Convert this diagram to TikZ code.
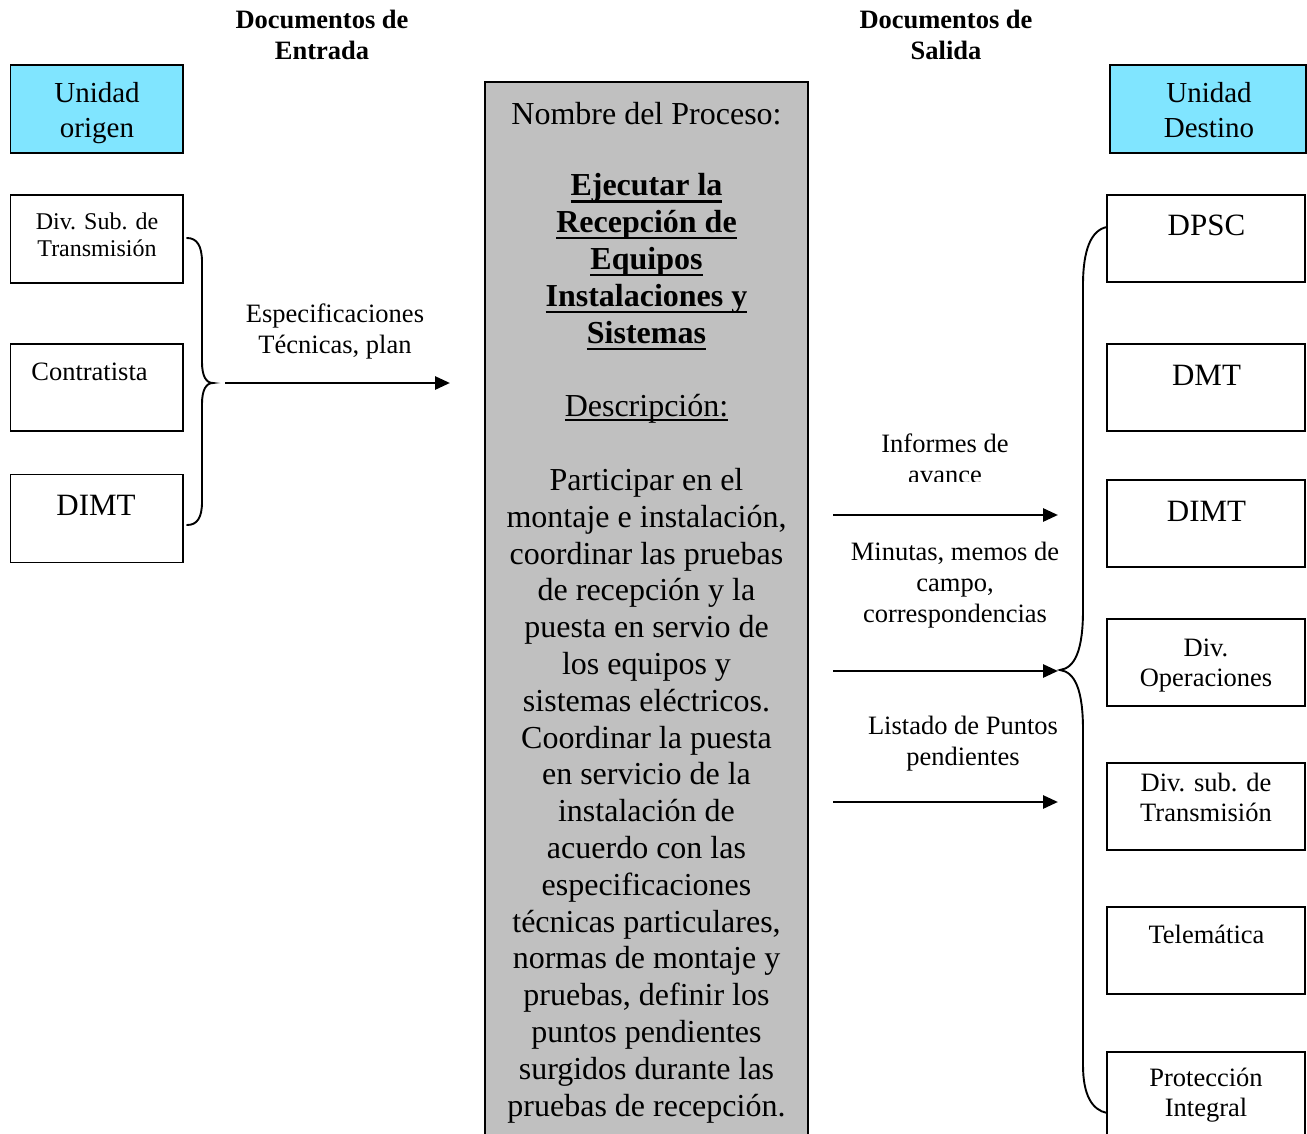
\documentclass[tikz,border=0pt]{standalone}
\usepackage{fontspec}
\setmainfont{Liberation Serif}
\usetikzlibrary{arrows.meta}
\definecolor{unitcyan}{RGB}{128,229,255}
\definecolor{procgray}{RGB}{192,192,192}
% underlines drawn through the descenders, word-processor style
\newcommand\ulthick[1]{\setbox0=\hbox{#1}\rlap{\rule[-6.8pt]{\wd0}{2.3pt}}\box0}
\newcommand\ulthin[1]{\setbox0=\hbox{#1}\rlap{\rule[-5.0pt]{\wd0}{1.6pt}}\box0}
\begin{document}
\begin{tikzpicture}[x=1pt,y=-1pt,
  box/.style={draw,line width=1.8pt,inner sep=0pt},
  unitbox/.style={box,fill=unitcyan},
  procbox/.style={box,fill=procgray},
  % multi-line texts are placed by the baseline of their last line
  txt/.style={inner sep=0pt,anchor=base,align=center},
  hdr/.style={txt,font=\bfseries\fontsize{26.5}{31}\selectfont},
  unittxt/.style={txt,font=\fontsize{29}{35}\selectfont},
  smalltxt/.style={txt,font=\fontsize{24}{28}\selectfont},
  midtxt/.style={txt,font=\fontsize{26.5}{30}\selectfont},
  bigtxt/.style={txt,font=\fontsize{31}{36}\selectfont},
  lbl/.style={txt,font=\fontsize{26.5}{31}\selectfont},
  proctxt/.style={txt,font=\fontsize{32}{36.8}\selectfont},
  flow/.style={line width=2.8pt,-{Triangle[length=15pt,width=13pt]}},
  brace/.style={line width=1.9pt,line cap=round}
]
\useasboundingbox (0,0) rectangle (1307,1134);

% column headings
\node[hdr] (hin)  at (322,60) {Documentos de\\Entrada};
\node[hdr] (hout) at (946,60) {Documentos de\\Salida};

% source units
\node[unitbox,minimum width=172.5,minimum height=88] (origen) at (96.75,109) {};
\node[unittxt] (origentxt) at (97,137.5) {Unidad\\origen};
\node[box,minimum width=172.5,minimum height=88] (divsub) at (96.75,239) {};
\node[smalltxt] (divsubtxt) at (97,257) {Div. Sub. de\\Transmisión};
\node[box,minimum width=172.5,minimum height=87] (contr) at (96.75,387.5) {};
\node[midtxt] (contrtxt) at (89.5,380) {Contratista};
\node[box,minimum width=172.5,minimum height=88] (dimtl) at (96.75,518.5) {};
\node[bigtxt] (dimtltxt) at (96,515) {DIMT};

% input brace
\draw[brace] (187,238) .. controls (197,238) and (202,246) .. (202,262)
  -- (202,362) .. controls (202,376) and (206,383) .. (213,383)
  .. controls (206,383) and (202,390) .. (202,404)
  -- (202,502) .. controls (202,518) and (197,525) .. (187,525);

% input documents
\coordinate (intail) at (225,383);
\coordinate (inhead) at (450,383);
\draw[flow] (intail) -- (inhead);
\node[lbl] (inlbl) at (335,353) {Especificaciones\\Técnicas, plan};

% process
\node[procbox,minimum width=323,minimum height=1063] (proc) at (646.5,613.5) {};
\node[proctxt] (ptitle) at (646.5,124.5) {Nombre del Proceso:};
\node[proctxt,font=\bfseries\fontsize{32}{36.8}\selectfont] (pname) at (646.5,343)
  {\ulthick{Ejecutar la}\\\ulthick{Recepción de}\\\ulthick{Equipos}\\\ulthick{Instalaciones y}\\\ulthick{Sistemas}};
\node[proctxt] (pdesc) at (646.5,416) {\ulthin{Descripción:}};
\node[proctxt] (pbody) at (646.5,1116) {Participar en el\\montaje e instalación,\\coordinar las pruebas\\de recepción y la\\puesta en servio de\\los equipos y\\sistemas eléctricos.\\Coordinar la puesta\\en servicio de la\\instalación de\\acuerdo con las\\especificaciones\\técnicas particulares,\\normas de montaje y\\pruebas, definir los\\puntos pendientes\\surgidos durante las\\pruebas de recepción.};

% output documents
\coordinate (out1t) at (833,515);
\coordinate (out1h) at (1058,515);
\coordinate (out2t) at (833,671);
\coordinate (out2h) at (1058,671);
\coordinate (out3t) at (833,802);
\coordinate (out3h) at (1058,802);
\draw[flow] (out1t) -- (out1h);
\draw[flow] (out2t) -- (out2h);
\draw[flow] (out3t) -- (out3h);
\begin{scope}
  \clip (830,400) rectangle (1060,481.5);
  \node[lbl] (out1lbl) at (945,483) {Informes de\\avance};
\end{scope}
\node[lbl] (out2lbl) at (955,622) {Minutas, memos de\\campo,\\correspondencias};
\node[lbl] (out3lbl) at (963,765) {Listado de Puntos\\pendientes};

% output brace
\draw[brace] (1107,227) .. controls (1091,230) and (1083,250) .. (1083,285)
  -- (1083,610) .. controls (1083,650) and (1075,668) .. (1060,670)
  .. controls (1075,672) and (1083,690) .. (1083,730)
  -- (1083,1065) .. controls (1083,1095) and (1092,1110) .. (1107,1113);

% destination units
\node[unitbox,minimum width=196,minimum height=88] (destino) at (1208,109) {};
\node[unittxt] (destinotxt) at (1209,137.5) {Unidad\\Destino};
\node[box,minimum width=198,minimum height=87] (dpsc) at (1206,238.5) {};
\node[bigtxt] (dpsctxt) at (1206.5,236) {DPSC};
\node[box,minimum width=198,minimum height=87] (dmt) at (1206,387.5) {};
\node[bigtxt] (dmttxt) at (1206.5,385) {DMT};
\node[box,minimum width=198,minimum height=87] (dimtr) at (1206,523.5) {};
\node[bigtxt] (dimtrtxt) at (1206.5,521) {DIMT};
\node[box,minimum width=198,minimum height=87] (divop) at (1206,662.5) {};
\node[midtxt] (divoptxt) at (1206,686) {Div.\\Operaciones};
\node[box,minimum width=198,minimum height=87] (divsubr) at (1206,806.5) {};
\node[midtxt] (divsubrtxt) at (1206,821) {Div. sub. de\\Transmisión};
\node[box,minimum width=198,minimum height=87] (tele) at (1206,950.5) {};
\node[midtxt] (teletxt) at (1206.5,943) {Telemática};
\node[box,minimum width=198,minimum height=87] (prot) at (1206,1095.5) {};
\node[midtxt] (prottxt) at (1206,1116) {Protección\\Integral};
\end{tikzpicture}
\end{document}
